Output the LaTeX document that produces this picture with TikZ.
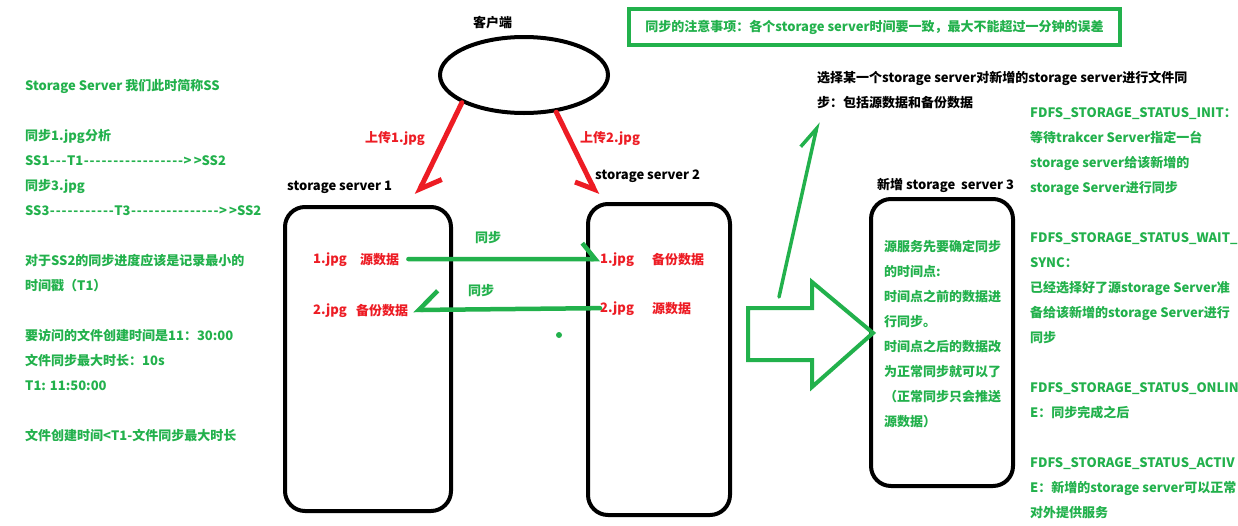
\documentclass[tikz,border=0pt]{standalone}
\usepackage{fontspec}
\newfontfamily\cjk{Noto Sans CJK SC}
\usetikzlibrary{arrows.meta,shapes.geometric}
\definecolor{pgreen}{RGB}{34,177,76}
\definecolor{pred}{RGB}{237,28,36}
\newcommand\hy{\makebox[5.9pt]{-}}
\newcommand\hyfive{\hy\hy\hy\hy\hy}
\begin{document}
\begin{tikzpicture}[x=1pt,y=-1pt,
  txt/.style={inner sep=0pt, anchor=base west, font=\cjk\bfseries\fontsize{13}{25}\selectfont, align=left},
  gtxt/.style={txt, text=pgreen},
  rtxt/.style={txt, text=pred},
  btxt/.style={txt, text=black},
  sbox/.style={draw=black, line width=4pt, rounded corners=20pt, inner sep=0pt},
  redarrow/.style={draw=pred, line width=5pt, line cap=round, line join=round},
  syncarrow/.style={draw=pgreen, line width=4.5pt, line cap=round, line join=round},
]
\useasboundingbox[fill=white] (0,0) rectangle (1238,525);

% left column (anchor = baseline of the last line)
\node[gtxt] (lefttxt) at (25,440) {Storage Server 我们此时简称SS\\[25pt]
同步1.jpg分析\\
SS1\hy\hy\hy T1\hyfive\hyfive\hyfive\hy\hy>\,>SS2\\
同步3.jpg\\
SS3\hyfive\hyfive\hy T3\hyfive\hyfive\hyfive>\,>SS2\\[25pt]
对于SS2的同步进度应该是记录最小的\\
时间戳（T1）\\[25pt]
要访问的文件创建时间是11：30:00\\
文件同步最大时长：10s\\
T1: 11:50:00\\[25pt]
文件创建时间<T1-文件同步最大时长};

% top note
\node[draw=pgreen, line width=4pt, minimum width=491pt, minimum height=36pt, inner sep=0pt,
  font=\cjk\bfseries\fontsize{13}{25}\selectfont, text=pgreen] (note) at (874.5,27)
  {同步的注意事项：各个storage server时间要一致，最大不能超过一分钟的误差};

% client
\node[btxt] (clientlbl) at (473,27) {客户端};
\node[ellipse, draw=black, line width=4pt, minimum width=168pt, minimum height=76pt, inner sep=0pt] (client) at (524,75) {};

% storage boxes
\node[sbox, minimum width=166pt, minimum height=304pt] (ss1) at (368,359) {};
\node[sbox, minimum width=142pt, minimum height=311pt] (ss2) at (659,359.5) {};
\node[sbox, minimum width=142pt, minimum height=287pt] (ss3) at (942,342.5) {};
\node[btxt] (ss1lbl) at (287,190) {storage server 1};
\node[btxt] (ss2lbl) at (595,179) {storage server 2};
\node[btxt] (ss3lbl) at (877,189) {新增 storage\ \ server 3};

% upload arrows
\node[rtxt] (up1) at (365,142) {上传1.jpg};
\node[rtxt] (up2) at (580,142) {上传2.jpg};
\coordinate (t1) at (417,195);
\coordinate (t2) at (597,195);
\draw[redarrow, -{Straight Barb[harpoon, length=18pt, width=31pt]}] (client.204) -- (t1);
\draw[redarrow, -{Straight Barb[harpoon, swap, length=15pt, width=28pt]}] (client.311) -- (t2);

% file rows
\node[rtxt] (f11) at (313,263) {1.jpg};
\node[rtxt] (d11) at (360,264) {源数据};
\node[rtxt] (f12) at (313,314) {2.jpg};
\node[rtxt] (d12) at (356,315) {备份数据};
\node[rtxt] (f21) at (600,263) {1.jpg};
\node[rtxt] (d21) at (652,264) {备份数据};
\node[rtxt] (f22) at (600,312) {2.jpg};
\node[rtxt] (d22) at (652,313) {源数据};

% sync arrows
\draw[syncarrow, shorten <=9pt, -{Straight Barb[harpoon, length=13pt, width=32pt]}] (d11.east) -- (f21.west);
\draw[syncarrow, shorten >=5pt, -{Straight Barb[harpoon, swap, length=19pt, width=38pt]}] (f22.west) -- (d12.east);
\node[gtxt] (sy1) at (475,242) {同步};
\node[gtxt] (sy2) at (468,295) {同步};
\fill[pgreen] (559,335) circle (3pt);

% big hollow arrow
\draw[pgreen, line width=4pt, line join=miter] (748,308) -- (812,308) -- (812,282) -- (873,333) -- (812,387) -- (812,360) -- (748,360) -- cycle;

% thin green arrow
\coordinate (g0) at (779,297);
\coordinate (g1) at (818,122);
\draw[pgreen, line width=3.5pt, line cap=round, line join=round, -{Straight Barb[harpoon, length=21pt, width=23pt]}] (g0) -- (g1);

\node[btxt] (sel) at (817,107) {选择某一个storage server对新增的storage server进行文件同\\步：包括源数据和备份数据};

% box 3 text
\node[gtxt] (ss3txt) at (884,426) {源服务先要确定同步\\的时间点:\\时间点之前的数据进\\行同步。\\时间点之后的数据改\\为正常同步就可以了\\（正常同步只会推送\\源数据）};

% right column
\node[gtxt] (status) at (1030,517) {FDFS\_STORAGE\_STATUS\_INIT：\\
等待trakcer Server指定一台\\
storage server给该新增的\\
storage Server进行同步\\[25pt]
FDFS\_STORAGE\_STATUS\_WAIT\_\\
SYNC：\\
已经选择好了源storage Server准\\
备给该新增的storage Server进行\\
同步\\[25pt]
FDFS\_STORAGE\_STATUS\_ONLIN\\
E：同步完成之后\\[25pt]
FDFS\_STORAGE\_STATUS\_ACTIV\\
E：新增的storage server可以正常\\
对外提供服务};
\end{tikzpicture}
\end{document}
